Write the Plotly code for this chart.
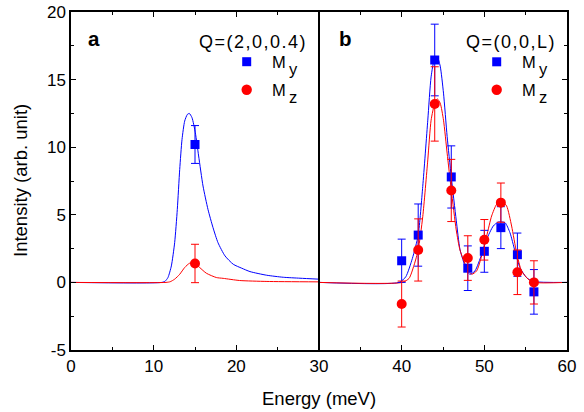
import plotly.graph_objects as go

# ---- data points ----
x_a = [15]
my_a = [10.2]
my_a_err = [1.4]
mz_a = [1.4]
mz_a_err = [1.42]

x_b = [40, 42, 44, 46, 48, 50, 52, 54, 56]
my_b = [1.6, 3.5, 16.45, 7.8, 1.05, 2.3, 4.05, 2.05, -0.7]
my_b_err = [1.6, 2.3, 2.65, 2.3, 1.65, 1.55, 1.55, 1.6, 1.65]
mz_b = [-1.6, 2.4, 13.2, 6.8, 1.8, 3.15, 5.9, 0.75, 0.0]
mz_b_err = [1.7, 2.3, 2.75, 2.3, 1.65, 1.5, 1.45, 1.65, 1.6]

# ---- fit curves ----
fit_a_my_x = [0, 11.0, 11.4, 11.73, 12.14, 12.54, 12.86, 13.15, 13.43, 13.75, 14.07, 14.31,
              14.64, 15.04, 15.44, 15.97, 16.57, 17.18, 17.78, 18.63, 19.63, 20.65, 21.65,
              23.67, 25.68, 27.7, 30]
fit_a_my_y = [0, 0, 0.1, 0.36, 1.22, 2.94, 5.4, 8.36, 10.58, 11.93, 12.42, 12.5,
              12.18, 11.07, 9.35, 7.13, 5.4, 4.05, 2.94, 1.96, 1.34, 1.05, 0.8,
              0.53, 0.38, 0.31, 0.24]
fit_a_mz_x = [0, 11.5, 12.0, 12.54, 13.15, 13.75, 14.35, 14.96, 15.57, 16.37, 17.58, 18.4,
              20.4, 23.7, 30]
fit_a_mz_y = [0, 0, 0.05, 0.24, 0.6, 1.1, 1.42, 1.42, 1.1, 0.68, 0.36, 0.3,
              0.14, 0.07, 0.04]

fit_b_my_x = [30, 39.7, 40.5, 41.3, 42.0, 42.55, 43.16, 43.56, 44.0, 44.3, 44.66, 45.06, 45.5,
              46.0, 46.6, 47.05, 47.5, 47.86, 48.27, 48.87, 49.68, 50.28, 51.08, 51.69, 52.5,
              53.1, 53.7, 54.3, 55.1, 55.9, 60]
fit_b_my_y = [0, 0, 0.42, 1.78, 3.5, 7.1, 12.0, 15.2, 16.6, 16.7, 16.0, 14.0, 10.8,
              7.8, 4.6, 2.45, 1.5, 0.85, 0.6, 0.85, 2.08, 3.19, 4.17, 4.47, 4.42,
              3.68, 2.33, 1.1, 0.36, 0.07, 0]
fit_b_mz_x = [30, 40.1, 40.9, 41.5, 42.0, 42.55, 43.16, 43.56, 44.0, 44.3, 44.66, 45.06, 45.5,
              46.0, 46.6, 47.05, 47.86, 48.47, 49.07, 49.68, 50.28, 50.88, 51.49, 52.1, 52.7,
              53.3, 53.9, 54.5, 55.3, 56.0, 60]
fit_b_mz_y = [0, 0, 0.3, 1.28, 2.4, 4.86, 9.06, 12.0, 13.26, 13.58, 13.26, 12.0, 9.56,
              6.84, 3.88, 2.4, 1.1, 0.6, 0.85, 1.96, 3.43, 4.91, 5.78, 6.02, 5.65,
              4.17, 2.2, 0.85, 0.24, 0.0, 0]

x_ticks = [0, 10, 20, 30, 40, 50, 60]
y_ticks = [-5, 0, 5, 10, 15, 20]
y_tick_labels = ["-5", "0", "5", "10", "15", "20"]

BLUE = "#0000ff"
RED = "#ff0000"
FONT = "Liberation Sans, Arial, sans-serif"

fig = go.Figure()

def curve(x, y, color):
    fig.add_trace(go.Scatter(x=x, y=y, mode="lines", line=dict(color=color, width=1,
                  shape="spline", smoothing=0.6), showlegend=False, hoverinfo="skip"))

curve(fit_a_my_x, fit_a_my_y, BLUE)
curve(fit_a_mz_x, fit_a_mz_y, RED)
curve(fit_b_my_x, fit_b_my_y, BLUE)
curve(fit_b_mz_x, fit_b_mz_y, RED)

def points(x, y, err, color, symbol, size):
    fig.add_trace(go.Scatter(x=x, y=y, mode="markers",
                  marker=dict(color=color, symbol=symbol, size=size, line=dict(width=0)),
                  error_y=dict(type="data", array=err, color=color, thickness=1, width=4),
                  showlegend=False))

points(x_a, my_a, my_a_err, BLUE, "square", 9)
points(x_a, mz_a, mz_a_err, RED, "circle", 10)
points(x_b, my_b, my_b_err, BLUE, "square", 9)
points(x_b, mz_b, mz_b_err, RED, "circle", 10)

W, H = 584, 412
L, R, T, B = 71, 17, 12, 62
pw, ph = W - L - R, H - T - B

def px2paper(px, py):
    return (px - L) / pw, (H - B - py) / ph

shapes = []
annotations = []

# divider between panels
shapes.append(dict(type="line", xref="x", yref="paper", x0=30, x1=30, y0=0, y1=1,
                   line=dict(color="black", width=2)))

def text(px, py, s, size, xanchor="left", bold=False, color="black", angle=0):
    xp, yp = px2paper(px, py)
    annotations.append(dict(xref="paper", yref="paper", x=xp, y=yp, text=("<b>%s</b>" % s) if bold else s,
                            showarrow=False, xanchor=xanchor, yanchor="middle", textangle=angle,
                            font=dict(family=FONT, size=size, color=color)))

def legend_box(cx, cy, q_right, qtext):
    text(q_right, 42, qtext, 18, xanchor="right")
    x0, y0 = px2paper(cx - 4.5, cy + 4.5)
    x1, y1 = px2paper(cx + 4.5, cy - 4.5)
    shapes.append(dict(type="rect", xref="paper", yref="paper", x0=x0, y0=y0, x1=x1, y1=y1,
                       fillcolor=BLUE, line=dict(width=0)))
    x0, y0 = px2paper(cx - 5.2, cy + 28 + 5.2)
    x1, y1 = px2paper(cx + 5.2, cy + 28 - 5.2)
    shapes.append(dict(type="circle", xref="paper", yref="paper", x0=x0, y0=y0, x1=x1, y1=y1,
                       fillcolor=RED, line=dict(width=0)))
    text(cx + 23, cy, "M", 16.5)
    text(cx + 40, cy + 7, "y", 16.5)
    text(cx + 23, cy + 28, "M", 16.5)
    text(cx + 40, cy + 35, "z", 16.5)

hs = "\u200a"
legend_box(246.7, 61.7, 308, hs.join("Q=(2,0,0.4)"))
legend_box(496.7, 61.8, 557, hs.join("Q=(0,0,L)"))

text(86, 39, "a", 20.5, bold=True)
text(337, 39, "b", 20.5, bold=True)

# axis titles
text(319, 398, "Energy (meV)", 18.5, xanchor="center")
text(20, 181, "Intensity (arb. unit)", 18.5, xanchor="center", angle=-90)

axis_common = dict(showline=True, linecolor="black", linewidth=1.5, mirror="ticks",
                   ticks="inside", tickcolor="black", tickwidth=1, showgrid=False,
                   zeroline=False, automargin=False,
                   tickfont=dict(family=FONT, size=17, color="black"))

fig.update_layout(
    width=W, height=H,
    margin=dict(l=L, r=R, t=T, b=B, autoexpand=False),
    paper_bgcolor="white", plot_bgcolor="white",
    shapes=shapes, annotations=annotations,
    xaxis=dict(range=[0, 60], tickvals=x_ticks, ticklen=5,
               minor=dict(dtick=5, tick0=0, ticklen=3, ticks="inside", tickcolor="black"),
               **axis_common),
    yaxis=dict(range=[-5, 20], tickvals=y_ticks, ticktext=y_tick_labels, ticklen=5,
               minor=dict(dtick=2.5, tick0=0, ticklen=3, ticks="inside", tickcolor="black"),
               **axis_common),
)

fig.write_html("out.html")
